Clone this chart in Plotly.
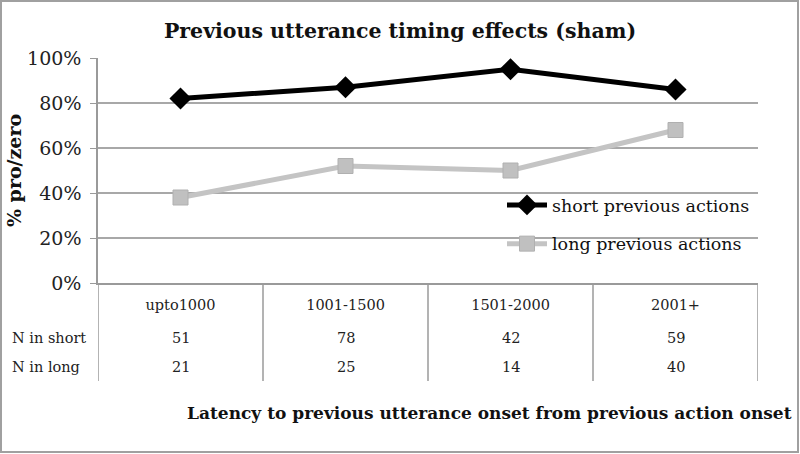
import plotly.graph_objects as go

categories = ["upto1000", "1001-1500", "1501-2000", "2001+"]
short_pct = [0.82, 0.87, 0.95, 0.86]
long_pct = [0.38, 0.52, 0.50, 0.68]
n_short = [51, 78, 42, 59]
n_long = [21, 25, 14, 40]
y_ticks = [0, 0.2, 0.4, 0.6, 0.8, 1.0]

SERIF = "DejaVu Serif"
W, H = 800, 454
L, R, T, B = 98, 42, 58, 171
pw, ph = W - L - R, H - T - B

def px_to_paper_x(px):
    return (px - L) / pw

def px_to_paper_y(py):
    return (H - B - py) / ph

fig = go.Figure()
fig.add_trace(go.Scatter(
    x=categories, y=short_pct, name="short previous actions", mode="lines+markers",
    line=dict(color="#000000", width=5),
    marker=dict(symbol="diamond", size=17, color="#000000"),
    legendgroup="a",
))
fig.add_trace(go.Scatter(
    x=categories, y=long_pct, name="long previous actions", mode="lines+markers",
    line=dict(color="#c4c4c4", width=5),
    marker=dict(symbol="square", size=15, color="#c0c0c0", line=dict(color="#b0b0b0", width=1)),
    legendgroup="b",
))

shapes = []
for i in range(len(categories) + 1):
    shapes.append(dict(type="line", xref="x", yref="paper", x0=i - 0.5, x1=i - 0.5,
                       y0=0, y1=px_to_paper_y(381), line=dict(color="#9a9a9a", width=1.5)))
shapes.append(dict(type="rect", xref="paper", yref="paper",
                   x0=px_to_paper_x(1), x1=px_to_paper_x(798),
                   y0=px_to_paper_y(452), y1=px_to_paper_y(1),
                   line=dict(color="#a0a0a0", width=2), fillcolor="rgba(0,0,0,0)", layer="below"))

annotations = []
row_y = [px_to_paper_y(338), px_to_paper_y(367)]
tfont = dict(family=SERIF, size=14.5, color="#222")
for i, c in enumerate(categories):
    annotations.append(dict(x=c, xref="x", y=row_y[0], yref="paper", yanchor="middle",
                            text=str(n_short[i]), showarrow=False, font=tfont))
    annotations.append(dict(x=c, xref="x", y=row_y[1], yref="paper", yanchor="middle",
                            text=str(n_long[i]), showarrow=False, font=tfont))
for lab, yy in zip(["N in short", "N in long"], row_y):
    annotations.append(dict(x=px_to_paper_x(10), xref="paper", xanchor="left", y=yy, yref="paper",
                            yanchor="middle", text=lab, showarrow=False, font=tfont))
annotations.append(dict(x=px_to_paper_x(489), xref="paper", xanchor="center",
                        y=px_to_paper_y(413), yref="paper", yanchor="middle",
                        text="<b>Latency to previous utterance onset from previous action onset</b>",
                        showarrow=False, font=dict(family=SERIF, size=17, color="#111")))

fig.update_layout(
    width=W, height=H,
    margin=dict(l=L, r=R, t=T, b=B),
    paper_bgcolor="white", plot_bgcolor="white",
    title=dict(text="<b>Previous utterance timing effects (sham)</b>", x=0.5, xanchor="center",
               xref="container", y=1 - 31 / H, yanchor="middle",
               font=dict(family=SERIF, size=20.5, color="#111")),
    xaxis=dict(type="category", categoryarray=categories, range=[-0.5, 3.5],
               showgrid=False, showline=True, linecolor="#9a9a9a", linewidth=1.5,
               ticks="", tickfont=tfont, ticklabelstandoff=8, zeroline=False),
    yaxis=dict(range=[0, 1], tickvals=y_ticks, tickformat=".0%",
               showgrid=True, gridcolor="#a8a8a8", gridwidth=1.5,
               showline=True, linecolor="#9a9a9a", linewidth=1.5,
               ticks="outside", ticklen=6, tickcolor="#9a9a9a",
               tickfont=dict(family=SERIF, size=19, color="#222"), zeroline=False,
               ticklabelstandoff=5,
               title=dict(text="<b>% pro/zero</b>", font=dict(family=SERIF, size=19, color="#111"),
                          standoff=0)),
    legend=dict(x=px_to_paper_x(502), xanchor="left", y=px_to_paper_y(187), yanchor="top",
                bgcolor="rgba(0,0,0,0)", font=dict(family=SERIF, size=17.5, color="#111"),
                tracegroupgap=13, itemwidth=40),
    shapes=shapes, annotations=annotations,
    showlegend=True,
)

fig.write_html("out.html", config={"displayModeBar": False},
               post_script="document.body.style.margin='0';")
